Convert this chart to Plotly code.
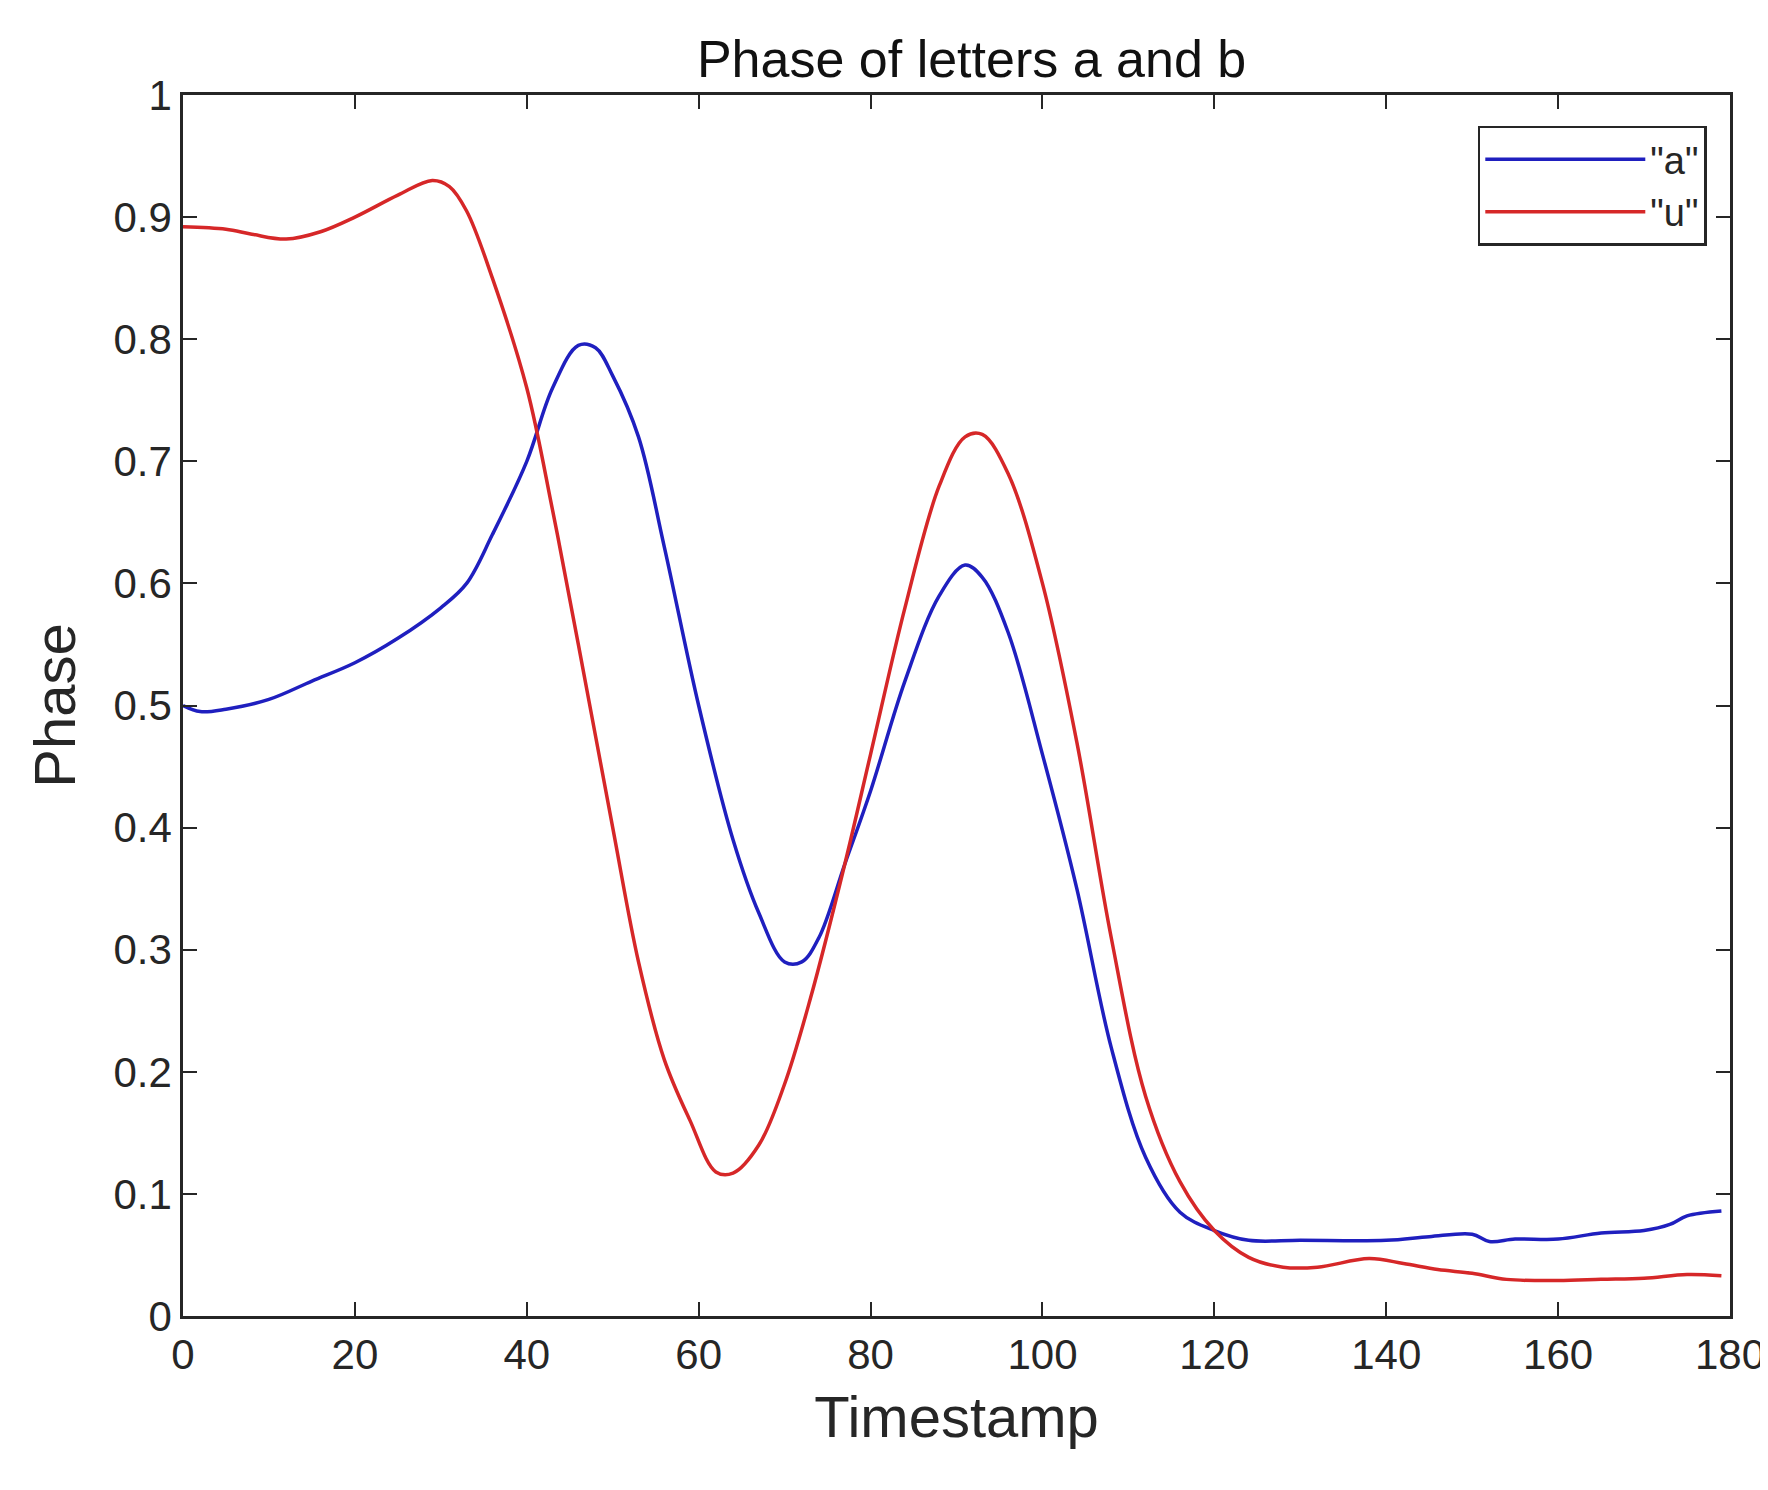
import plotly.graph_objects as go

a_x = [0,2,5,10,15,20,25,30,33,36,40,43,46,48,50,53,56,60,64,67,70,72,74,77,80,84,88,91,93,96,100,104,108,112,116,120,124,130,140,145,150,152,155,160,165,170,173,175,179]
a_y = [0.50,0.495,0.497,0.505,0.52,0.535,0.555,0.58,0.60,0.64,0.70,0.76,0.795,0.793,0.77,0.72,0.63,0.50,0.39,0.33,0.29,0.29,0.31,0.37,0.43,0.52,0.59,0.615,0.605,0.56,0.46,0.35,0.22,0.13,0.085,0.07,0.062,0.062,0.062,0.065,0.067,0.061,0.063,0.063,0.068,0.07,0.075,0.082,0.086]
u_x = [0,5,8,12,16,20,25,29,31,33,36,40,43,46,50,53,56,59,62,64,67,70,73,77,80,84,88,91,93,96,100,104,108,112,116,120,124,128,132,138,142,146,150,154,160,165,170,175,179]
u_y = [0.892,0.89,0.886,0.882,0.888,0.9,0.918,0.93,0.925,0.905,0.85,0.76,0.66,0.55,0.40,0.29,0.21,0.16,0.118,0.117,0.14,0.19,0.26,0.37,0.46,0.58,0.68,0.72,0.722,0.69,0.60,0.47,0.31,0.18,0.11,0.07,0.048,0.04,0.04,0.047,0.043,0.038,0.035,0.03,0.029,0.03,0.031,0.034,0.033]

fig = go.Figure()
fig.add_trace(go.Scatter(x=a_x, y=a_y, mode="lines", name='"a"', line=dict(color="#1f1fbf", width=3.5, shape="spline")))
fig.add_trace(go.Scatter(x=u_x, y=u_y, mode="lines", name='"u"', line=dict(color="#d62728", width=3.5, shape="spline")))

ax = dict(showline=True, linecolor="#262626", linewidth=2.5, mirror="ticks", ticks="inside",
          ticklen=14, tickwidth=2, tickcolor="#262626", showgrid=False, zeroline=False,
          tickfont=dict(size=42, color="#262626"))
fig.update_xaxes(range=[0,180], dtick=20, title=dict(text="Timestamp", font=dict(size=58, color="#262626"), standoff=20), **ax)
fig.update_yaxes(range=[0,1], tickvals=[0,0.1,0.2,0.3,0.4,0.5,0.6,0.7,0.8,0.9,1],
                 ticktext=["0","0.1","0.2","0.3","0.4","0.5","0.6","0.7","0.8","0.9","1"],
                 title=dict(text="Phase", font=dict(size=58, color="#262626"), standoff=20), **ax)
fig.update_layout(
    width=1768, height=1490, plot_bgcolor="white", paper_bgcolor="white",
    font=dict(family="Liberation Sans, Arial", color="#262626"),
    margin=dict(l=175, r=46, t=87, b=182),
    title=dict(text="Phase of letters a and b", x=0.545, xanchor="center", y=0.966, yanchor="middle",
               font=dict(size=52, color="#111")),
    legend=dict(x=0.985, y=0.975, xanchor="right", yanchor="top", bgcolor="white",
                bordercolor="#262626", borderwidth=2.5, font=dict(size=38), itemwidth=160,
                tracegroupgap=12),
    showlegend=True,
)
fig.write_html("out.html")
